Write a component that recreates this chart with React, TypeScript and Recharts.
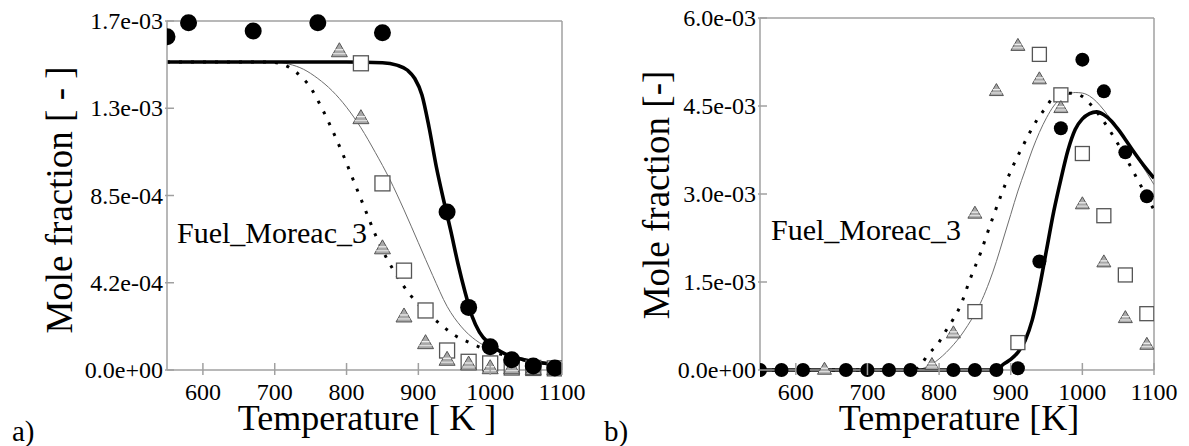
import React from 'react';
import { ComposedChart, Line, Scatter, XAxis, YAxis, ReferenceLine, Label } from 'recharts';

const FONT = '"Liberation Serif", "Times New Roman", serif';
const AXIS = '#a0a0a0';

// ---------- shared x axis ----------
const xDomain = [550, 1100];
const xTicks = [600, 700, 800, 900, 1000, 1100];

// ---------- panel a) ----------
const yDomainA = [0, 1.7e-3];
const yTicksA = [0, 4.25e-4, 8.5e-4, 1.275e-3, 1.7e-3];
const yTickLabelsA = ['0.0e+00', '4.2e-04', '8.5e-04', '1.3e-03', '1.7e-03'];

const circleTempA = [550, 580, 670, 760, 850, 940, 970, 1000, 1030, 1060, 1090];
const circleValA = [1.623e-3, 1.692e-3, 1.651e-3, 1.692e-3, 1.643e-3, 7.7e-4, 3.05e-4, 1.13e-4, 5.0e-5, 2.0e-5, 1.0e-5];

const squareTempA = [820, 850, 880, 910, 940, 970, 1000, 1030, 1060, 1090];
const squareValA = [1.494e-3, 9.09e-4, 4.84e-4, 2.9e-4, 9.5e-5, 4.0e-5, 3.2e-5, 1.2e-5, 1.0e-5, 8.0e-6];

const triTempA = [790, 820, 850, 880, 910, 940, 970, 1000, 1030, 1060, 1090];
const triValA = [1.56e-3, 1.234e-3, 6.0e-4, 2.68e-4, 1.38e-4, 5.7e-5, 3.4e-5, 1.6e-5, 1.6e-5, 1.2e-5, 1.2e-5];

const thickTempA = [550, 800, 850, 870, 885, 895, 905, 915, 925, 935, 945, 955, 965, 975, 985, 1000, 1020, 1040, 1060, 1080, 1100];
const thickValA = [1.5e-3, 1.5e-3, 1.497e-3, 1.485e-3, 1.46e-3, 1.42e-3, 1.34e-3, 1.18e-3, 9.9e-4, 8.3e-4, 6.8e-4, 5.2e-4, 3.8e-4, 2.6e-4, 1.85e-4, 1.25e-4, 8.0e-5, 5.6e-5, 4.0e-5, 3.1e-5, 2.4e-5];

const thinTempA = [550, 700, 720, 740, 760, 780, 800, 820, 840, 860, 880, 900, 920, 940, 960, 980, 1000, 1020, 1040, 1060, 1080, 1100];
const thinValA = [1.5e-3, 1.5e-3, 1.49e-3, 1.465e-3, 1.42e-3, 1.36e-3, 1.28e-3, 1.18e-3, 1.06e-3, 9.3e-4, 7.8e-4, 6.2e-4, 4.6e-4, 3.1e-4, 2.1e-4, 1.45e-4, 1.05e-4, 8.0e-5, 6.2e-5, 4.8e-5, 3.7e-5, 3.0e-5];

const dotTempA = [550, 690, 710, 730, 750, 765, 780, 795, 810, 825, 840, 855, 870, 890, 910, 930, 950, 970, 990, 1010, 1030, 1050, 1070, 1100];
const dotValA = [1.5e-3, 1.5e-3, 1.49e-3, 1.45e-3, 1.375e-3, 1.28e-3, 1.17e-3, 1.05e-3, 9.2e-4, 7.9e-4, 6.6e-4, 5.5e-4, 4.6e-4, 3.6e-4, 2.85e-4, 2.25e-4, 1.7e-4, 1.35e-4, 1.05e-4, 8.2e-5, 6.2e-5, 4.7e-5, 3.5e-5, 2.2e-5];

// ---------- panel b) ----------
const yDomainB = [0, 6.0e-3];
const yTicksB = [0, 1.5e-3, 3.0e-3, 4.5e-3, 6.0e-3];
const yTickLabelsB = ['0.0e+00', '1.5e-03', '3.0e-03', '4.5e-03', '6.0e-03'];

const circleTempB = [550, 580, 610, 670, 700, 730, 760, 820, 850, 880, 910, 940, 970, 1000, 1030, 1060, 1090];
const circleValB = [0, 0, 0, 0, 0, 0, 0, 0, 0, 0, 3.0e-5, 1.85e-3, 4.12e-3, 5.29e-3, 4.75e-3, 3.71e-3, 2.96e-3];

const squareTempB = [850, 910, 940, 970, 1000, 1030, 1060, 1090];
const squareValB = [9.95e-4, 4.67e-4, 5.38e-3, 4.69e-3, 3.69e-3, 2.63e-3, 1.62e-3, 9.6e-4];

const triTempB = [640, 790, 820, 850, 880, 910, 940, 970, 1000, 1030, 1060, 1090];
const triValB = [3.0e-5, 1.1e-4, 6.5e-4, 2.69e-3, 4.78e-3, 5.55e-3, 4.98e-3, 4.49e-3, 2.85e-3, 1.86e-3, 9.1e-4, 4.55e-4];

const thickTempB = [550, 880, 890, 900, 910, 920, 930, 940, 950, 960, 970, 980, 990, 1000, 1010, 1020, 1030, 1040, 1050, 1060, 1070, 1080, 1090, 1100];
const thickValB = [0, 0, 1.0e-4, 1.8e-4, 3.0e-4, 5.0e-4, 8.5e-4, 1.4e-3, 2.05e-3, 2.7e-3, 3.25e-3, 3.75e-3, 4.1e-3, 4.28e-3, 4.37e-3, 4.4e-3, 4.35e-3, 4.25e-3, 4.1e-3, 3.93e-3, 3.75e-3, 3.58e-3, 3.42e-3, 3.27e-3];

const thinTempB = [550, 770, 780, 790, 800, 810, 820, 830, 840, 850, 860, 870, 880, 890, 900, 910, 920, 930, 940, 950, 960, 970, 980, 990, 1000, 1010, 1020, 1030, 1040, 1050, 1060, 1070, 1080, 1090, 1100];
const thinValB = [0, 0, 4.0e-5, 1.0e-4, 1.9e-4, 3.0e-4, 4.3e-4, 5.8e-4, 7.6e-4, 9.6e-4, 1.2e-3, 1.5e-3, 1.85e-3, 2.25e-3, 2.65e-3, 3.05e-3, 3.4e-3, 3.75e-3, 4.05e-3, 4.3e-3, 4.5e-3, 4.63e-3, 4.7e-3, 4.73e-3, 4.72e-3, 4.67e-3, 4.57e-3, 4.43e-3, 4.27e-3, 4.1e-3, 3.92e-3, 3.74e-3, 3.55e-3, 3.36e-3, 3.16e-3];

const dotTempB = [550, 765, 775, 785, 798, 808, 820, 830, 843, 858, 871, 885, 900, 917, 937, 950, 960, 975, 990, 1000, 1012, 1025, 1045, 1066, 1076, 1100];
const dotValB = [0, 0, 1.0e-4, 2.7e-4, 4.4e-4, 6.4e-4, 8.7e-4, 1.1e-3, 1.54e-3, 2.0e-3, 2.46e-3, 2.93e-3, 3.39e-3, 3.82e-3, 4.27e-3, 4.49e-3, 4.66e-3, 4.72e-3, 4.71e-3, 4.66e-3, 4.52e-3, 4.32e-3, 3.95e-3, 3.5e-3, 3.27e-3, 2.73e-3];

const toPts = (ts: number[], vs: number[]) => ts.map((T, i) => ({ T, v: vs[i] }));

// ---------- markers ----------
const circleShape = (r: number) => (p: any) => <circle cx={p.cx} cy={p.cy} r={r} fill="#000" />;
const squareShape = (s: number) => (p: any) => (
  <rect x={p.cx - s / 2} y={p.cy - s / 2} width={s} height={s} fill="#fff" stroke="#555" strokeWidth={1.3} />
);
const triShape = (w: number, h: number) => (p: any) => {
  const { cx, cy } = p;
  const top = cy - h / 2;
  const bot = cy + h / 2;
  const half = (f: number) => (w / 2) * f;
  const yA = top + h * 0.5;
  const yB = top + h * 0.78;
  return (
    <g>
      <polygon points={`${cx},${top} ${cx - w / 2},${bot} ${cx + w / 2},${bot}`} fill="#a8a8a8" stroke="#555" strokeWidth={1} />
      <line x1={cx - half(0.5)} x2={cx + half(0.5)} y1={yA} y2={yA} stroke="#eee" strokeWidth={1.3} />
      <line x1={cx - half(0.78)} x2={cx + half(0.78)} y1={yB} y2={yB} stroke="#ddd" strokeWidth={1.3} />
    </g>
  );
};

const txtStyle = { fontFamily: FONT };

// ---------- ticks ----------
const XTick = (p: any) => {
  const { x, y, payload } = p;
  return (
    <g>
      <line x1={x} x2={x} y1={y - 7} y2={y + 5} stroke={AXIS} strokeWidth={1.5} />
      <text x={x} y={y + 30} textAnchor="middle" fontFamily={FONT} style={txtStyle} fontSize={24} fill="#000">{payload.value}</text>
    </g>
  );
};
const makeYTick = (ticks: number[], labels: string[]) => (p: any) => {
  const { x, y, payload } = p;
  const idx = ticks.findIndex((t) => Math.abs(t - payload.value) < 1e-9);
  return (
    <g>
      <line x1={x - 2} x2={x + 7} y1={y} y2={y} stroke={AXIS} strokeWidth={1.5} />
      <text x={x - 4} y={y + 8} textAnchor="end" fontFamily={FONT} style={txtStyle} fontSize={24} fill="#000">{labels[idx]}</text>
    </g>
  );
};

type PanelProps = {
  width: number;
  margin: any;
  yDomain: number[];
  yTicks: number[];
  yLabels: string[];
  circles: any[];
  squares: any[];
  tris: any[];
  thick: any[];
  thin: any[];
  dots: any[];
  yTitle: string;
  xTitle: string;
  yTitleX: number;
  yTitleY: number;
  xTitleX: number;
  tag: string;
  tagX: number;
  note: string;
  noteX: number;
  noteY: number;
  r: number;
  sq: number;
  tw: number;
  th: number;
};

const Panel = (P: PanelProps) => (
  <ComposedChart width={P.width} height={446} margin={P.margin} style={txtStyle}>
    <XAxis
      type="number"
      dataKey="T"
      domain={xDomain}
      ticks={xTicks}
      allowDataOverflow
      height={50}
      tickSize={0}
      tickMargin={0}
      tickLine={false}
      axisLine={{ stroke: AXIS, strokeWidth: 1.5 }}
      tick={XTick}
      interval={0}
    >
      <Label
        content={() => (
          <text x={P.xTitleX} y={430} textAnchor="middle" fontSize={36} fontFamily={FONT} style={txtStyle} fill="#000">{P.xTitle}</text>
        )}
      />
    </XAxis>
    <YAxis
      type="number"
      dataKey="v"
      domain={P.yDomain}
      ticks={P.yTicks}
      width={100}
      tickSize={0}
      tickMargin={0}
      tickLine={false}
      axisLine={{ stroke: AXIS, strokeWidth: 1.5 }}
      tick={makeYTick(P.yTicks, P.yLabels)}
      interval={0}
    >
      <Label
        content={() => (
          <text
            x={P.yTitleX}
            y={P.yTitleY}
            textAnchor="middle"
            fontSize={37}
            fontFamily={FONT}
            style={txtStyle}
            fill="#000"
            transform={`rotate(-90 ${P.yTitleX} ${P.yTitleY})`}
          >
            {P.yTitle}
          </text>
        )}
      />
    </YAxis>
    <ReferenceLine y={P.yDomain[1]} stroke={AXIS} strokeWidth={1.5} />
    <ReferenceLine x={1100} stroke={AXIS} strokeWidth={1.5} />
    <Line data={P.thin} dataKey="v" type="monotone" stroke="#6e6e6e" strokeWidth={1} dot={false} activeDot={false} isAnimationActive={false} />
    <Line data={P.dots} dataKey="v" type="monotone" stroke="#000" strokeWidth={3} strokeDasharray="3 9" dot={false} activeDot={false} isAnimationActive={false} />
    <Line data={P.thick} dataKey="v" type="monotone" stroke="#000" strokeWidth={3.6} dot={false} activeDot={false} isAnimationActive={false} />
    <Scatter data={P.squares} dataKey="v" shape={squareShape(P.sq)} isAnimationActive={false} />
    <Scatter data={P.tris} dataKey="v" shape={triShape(P.tw, P.th)} isAnimationActive={false} />
    <Scatter data={P.circles} dataKey="v" shape={circleShape(P.r)} isAnimationActive={false} />
    <text x={P.noteX} y={P.noteY} fontSize={30} fontFamily={FONT} style={txtStyle} fill="#000">{P.note}</text>
    <text x={P.tagX} y={441} fontSize={29} fontFamily={FONT} style={txtStyle} fill="#000">{P.tag}</text>
  </ComposedChart>
);

export default function App() {
  return (
    <div style={{ position: 'absolute', left: 0, top: 0, width: 1189, height: 446, background: '#fff', fontFamily: FONT }}>
      <div style={{ position: 'absolute', left: 0, top: 0 }}>
        <Panel
          width={595}
          margin={{ top: 21, right: 33, bottom: 26, left: 67 }}
          yDomain={yDomainA}
          yTicks={yTicksA}
          yLabels={yTickLabelsA}
          circles={toPts(circleTempA, circleValA)}
          squares={toPts(squareTempA, squareValA)}
          tris={toPts(triTempA, triValA)}
          thick={toPts(thickTempA, thickValA)}
          thin={toPts(thinTempA, thinValA)}
          dots={toPts(dotTempA, dotValA)}
          yTitle="Mole fraction  [ - ]"
          xTitle="Temperature [ K ]"
          yTitleX={72}
          yTitleY={200}
          xTitleX={367}
          tag="a)"
          tagX={12}
          note="Fuel_Moreac_3"
          noteX={177}
          noteY={243}
          r={8.5}
          sq={15}
          tw={16}
          th={14}
        />
      </div>
      <div style={{ position: 'absolute', left: 595, top: 0 }}>
        <Panel
          width={594}
          margin={{ top: 18, right: 35, bottom: 26, left: 65 }}
          yDomain={yDomainB}
          yTicks={yTicksB}
          yLabels={yTickLabelsB}
          circles={toPts(circleTempB, circleValB)}
          squares={toPts(squareTempB, squareValB)}
          tris={toPts(triTempB, triValB)}
          thick={toPts(thickTempB, thickValB)}
          thin={toPts(thinTempB, thinValB)}
          dots={toPts(dotTempB, dotValB)}
          yTitle="Mole fraction [-]"
          xTitle="Temperature [K]"
          yTitleX={74}
          yTitleY={195}
          xTitleX={364}
          tag="b)"
          tagX={9}
          note="Fuel_Moreac_3"
          noteX={176}
          noteY={240}
          r={7}
          sq={14}
          tw={14}
          th={12}
        />
      </div>
    </div>
  );
}
